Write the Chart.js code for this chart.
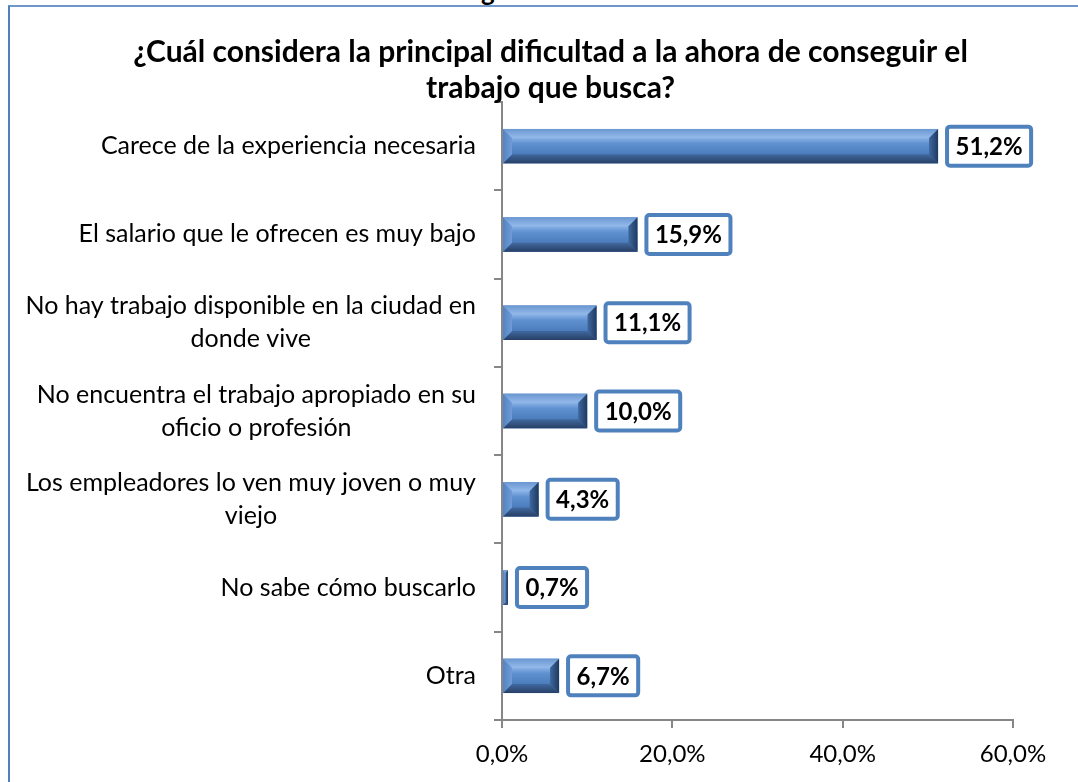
<!DOCTYPE html>
<html lang="es">
<head>
<meta charset="utf-8">
<title>Principal dificultad para conseguir trabajo</title>
<script src="https://cdn.jsdelivr.net/npm/chart.js@4.4.1/dist/chart.umd.min.js"></script>
<style>
    html, body { margin: 0; padding: 0; background: #fff; }
    #page { position: relative; width: 1078px; height: 782px; overflow: hidden; }
    #frame { position: absolute; left: 8px; top: 5px; right: -10px; bottom: -10px;
             border-left: 2px solid #4F81BD; border-top: 2px solid #6F97CC; }
    #cut { position: absolute; left: 481px; top: -25px; font: bold 26px Lato, sans-serif; color: #000; }
    #chart { position: absolute; left: 0; top: 0; }
</style>
</head>
<body>
<div id="page">
    <div id="cut">g</div>
    <div id="frame"></div>
    <canvas id="chart" width="1078" height="782"></canvas>
</div>
<script>
// --- DATA ---
const categories = [
    'Carece de la experiencia necesaria',
    'El salario que le ofrecen es muy bajo',
    ['No hay trabajo disponible en la ciudad en', 'donde vive'],
    ['No encuentra el trabajo apropiado en su', 'oficio o profesión'],
    ['Los empleadores lo ven muy joven o muy', 'viejo'],
    'No sabe cómo buscarlo',
    'Otra'
];
const percentages = [51.2, 15.9, 11.1, 10.0, 4.3, 0.7, 6.7];
const xTicks = [0, 20, 40, 60];
const titleLines = ['¿Cuál considera la principal dificultad a la ahora de conseguir el', 'trabajo que busca?'];

const FONT = 'Lato, "Open Sans", sans-serif';
const fmt = v => v.toFixed(1).replace('.', ',') + '%';

// Category labels: block right-aligned to the axis, lines centred inside it
const categoryLabels = {
    id: 'categoryLabels',
    afterDraw(chart) {
        const { ctx, scales: { y }, chartArea } = chart;
        ctx.save();
        ctx.font = '25px ' + FONT;
        ctx.fillStyle = '#000';
        ctx.textAlign = 'center';
        ctx.textBaseline = 'middle';
        const right = chartArea.left - 26;
        categories.forEach((lab, i) => {
            const lines = Array.isArray(lab) ? lab : [lab];
            const w = Math.max(...lines.map(l => ctx.measureText(l).width));
            const cy = y.getPixelForValue(i);
            const lh = 33;
            lines.forEach((l, k) => {
                ctx.fillText(l, right - w / 2, cy + (k - (lines.length - 1) / 2) * lh);
            });
        });
        ctx.restore();
    }
};

// Bevelled bars, drawn over the library's bar elements
const bevelBars = {
    id: 'bevelBars',
    afterDatasetsDraw(chart) {
        const { ctx } = chart;
        const meta = chart.getDatasetMeta(0);
        meta.data.forEach(bar => {
            const p = bar.getProps(['x', 'y', 'base', 'height'], true);
            const x0 = Math.min(p.base, p.x), x1 = Math.max(p.base, p.x);
            const y0 = p.y - p.height / 2, y1 = p.y + p.height / 2;
            const w = x1 - x0, h = y1 - y0;
            const b = Math.min(9, w / 2, h / 2);
            ctx.save();
            // center face
            let g = ctx.createLinearGradient(0, y0 + b, 0, y1 - b);
            g.addColorStop(0, '#8AB2E6'); g.addColorStop(0.35, '#5F90D0'); g.addColorStop(1, '#4B7CBB');
            ctx.fillStyle = g;
            ctx.fillRect(x0, y0, w, h);
            // top face
            g = ctx.createLinearGradient(0, y0, 0, y0 + b);
            g.addColorStop(0, '#6A97D1'); g.addColorStop(1, '#94BAEA');
            ctx.fillStyle = g;
            ctx.beginPath();
            ctx.moveTo(x0, y0); ctx.lineTo(x1, y0); ctx.lineTo(x1 - b, y0 + b); ctx.lineTo(x0 + b, y0 + b);
            ctx.closePath(); ctx.fill();
            // bottom face
            g = ctx.createLinearGradient(0, y1 - b, 0, y1);
            g.addColorStop(0, '#41699F'); g.addColorStop(1, '#273F66');
            ctx.fillStyle = g;
            ctx.beginPath();
            ctx.moveTo(x0, y1); ctx.lineTo(x1, y1); ctx.lineTo(x1 - b, y1 - b); ctx.lineTo(x0 + b, y1 - b);
            ctx.closePath(); ctx.fill();
            // left face
            g = ctx.createLinearGradient(x0, 0, x0 + b, 0);
            g.addColorStop(0, '#5283C2'); g.addColorStop(1, '#6E9CD7');
            ctx.fillStyle = g;
            ctx.beginPath();
            ctx.moveTo(x0, y0); ctx.lineTo(x0 + b, y0 + b); ctx.lineTo(x0 + b, y1 - b); ctx.lineTo(x0, y1);
            ctx.closePath(); ctx.fill();
            // right face
            g = ctx.createLinearGradient(x1 - b, 0, x1, 0);
            g.addColorStop(0, '#3F689F'); g.addColorStop(1, '#1F3A60');
            ctx.fillStyle = g;
            ctx.beginPath();
            ctx.moveTo(x1, y0); ctx.lineTo(x1 - b, y0 + b); ctx.lineTo(x1 - b, y1 - b); ctx.lineTo(x1, y1);
            ctx.closePath(); ctx.fill();
            ctx.restore();
        });
    }
};

// Boxed value labels next to each bar
const valueBoxes = {
    id: 'valueBoxes',
    afterDatasetsDraw(chart) {
        const { ctx } = chart;
        const meta = chart.getDatasetMeta(0);
        ctx.save();
        ctx.font = 'bold 24px ' + FONT;
        ctx.textBaseline = 'middle';
        ctx.textAlign = 'left';
        meta.data.forEach((bar, i) => {
            const txt = fmt(percentages[i]);
            const tw = ctx.measureText(txt).width;
            const bw = tw + 21, bh = 43;
            const left = bar.x + 7, top = bar.y - bh / 2;
            ctx.beginPath();
            ctx.roundRect(left + 2, top + 2, bw - 4, bh - 4, 3);
            ctx.fillStyle = '#fff';
            ctx.fill();
            ctx.lineWidth = 4;
            ctx.strokeStyle = '#4F81BD';
            ctx.stroke();
            ctx.fillStyle = '#000';
            ctx.fillText(txt, left + (bw - tw) / 2, bar.y + 1);
        });
        ctx.restore();
    }
};

new Chart(document.getElementById('chart'), {
    type: 'bar',
    data: {
        labels: categories,
        datasets: [{
            data: percentages,
            backgroundColor: '#4F81BD',
            categoryPercentage: 1,
            barPercentage: 0.39
        }]
    },
    options: {
        indexAxis: 'y',
        responsive: false,
        devicePixelRatio: 1,
        animation: false,
        layout: { padding: { left: 88, right: 65, top: 0, bottom: 0 } },
        plugins: {
            legend: { display: false },
            tooltip: { enabled: false },
            title: {
                display: true,
                text: titleLines,
                color: '#000',
                font: { family: FONT, size: 30, weight: 'bold', lineHeight: '36px' },
                padding: { top: 34, bottom: -4 }
            }
        },
        scales: {
            x: {
                min: 0, max: 60,
                afterBuildTicks: s => { s.ticks = xTicks.map(v => ({ value: v })); },
                afterFit: s => { s.height = 62; },
                border: { color: '#868686', width: 2 },
                grid: { drawOnChartArea: false, drawTicks: true, tickLength: 8, color: '#868686', lineWidth: 2 },
                ticks: { color: '#000', font: { family: FONT, size: 24 }, padding: 12, callback: v => fmt(v), maxRotation: 0 }
            },
            y: {
                afterFit: s => { s.width = 414; },
                border: { color: '#868686', width: 2 },
                grid: { drawOnChartArea: false, drawTicks: true, tickLength: 8, color: '#868686', lineWidth: 2 },
                ticks: { display: false }
            }
        }
    },
    plugins: [bevelBars, valueBoxes, categoryLabels]
});
</script>
</body>
</html>
